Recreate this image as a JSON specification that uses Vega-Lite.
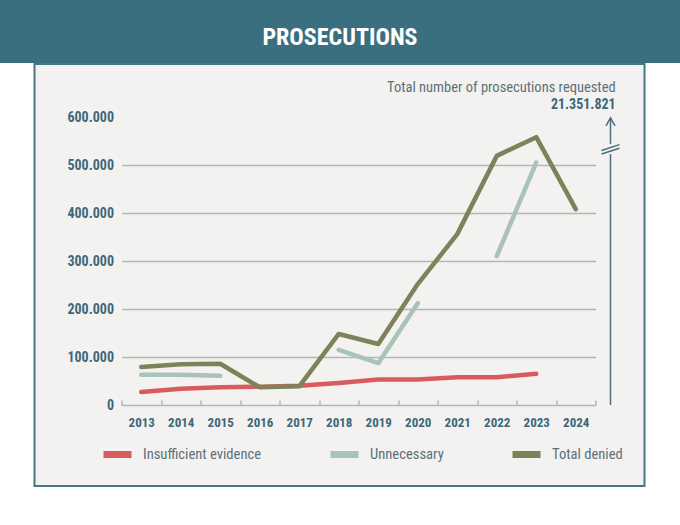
{
  "$schema": "https://vega.github.io/schema/vega-lite/v6.json",
  "background": "white",
  "padding": 0,
  "spacing": 0,
  "center": true,
  "config": {"font": "Roboto Condensed, Liberation Sans Narrow, Roboto, sans-serif", "view": {"stroke": null}},
  "datasets": {
    "header": [{"title": "PROSECUTIONS"}],
    "annotation": [{"label": "Total number of prosecutions requested", "total": "21.351.821"}],
    "prosecutions": [
      {"year": 2013, "series": "Insufficient evidence", "value": 27000},
      {"year": 2014, "series": "Insufficient evidence", "value": 34000},
      {"year": 2015, "series": "Insufficient evidence", "value": 37000},
      {"year": 2016, "series": "Insufficient evidence", "value": 38000},
      {"year": 2017, "series": "Insufficient evidence", "value": 40000},
      {"year": 2018, "series": "Insufficient evidence", "value": 46000},
      {"year": 2019, "series": "Insufficient evidence", "value": 53000},
      {"year": 2020, "series": "Insufficient evidence", "value": 53000},
      {"year": 2021, "series": "Insufficient evidence", "value": 58000},
      {"year": 2022, "series": "Insufficient evidence", "value": 58000},
      {"year": 2023, "series": "Insufficient evidence", "value": 65000},
      {"year": 2013, "series": "Unnecessary", "value": 63000},
      {"year": 2014, "series": "Unnecessary", "value": 63000},
      {"year": 2015, "series": "Unnecessary", "value": 61000},
      {"year": 2016, "series": "Unnecessary", "value": null},
      {"year": 2017, "series": "Unnecessary", "value": null},
      {"year": 2018, "series": "Unnecessary", "value": 115000},
      {"year": 2019, "series": "Unnecessary", "value": 87000},
      {"year": 2020, "series": "Unnecessary", "value": 212000},
      {"year": 2021, "series": "Unnecessary", "value": null},
      {"year": 2022, "series": "Unnecessary", "value": 310000},
      {"year": 2023, "series": "Unnecessary", "value": 505000},
      {"year": 2013, "series": "Total denied", "value": 79000},
      {"year": 2014, "series": "Total denied", "value": 85000},
      {"year": 2015, "series": "Total denied", "value": 86000},
      {"year": 2016, "series": "Total denied", "value": 37000},
      {"year": 2017, "series": "Total denied", "value": 39000},
      {"year": 2018, "series": "Total denied", "value": 148000},
      {"year": 2019, "series": "Total denied", "value": 127000},
      {"year": 2020, "series": "Total denied", "value": 252000},
      {"year": 2021, "series": "Total denied", "value": 356000},
      {"year": 2022, "series": "Total denied", "value": 519000},
      {"year": 2023, "series": "Total denied", "value": 558000},
      {"year": 2024, "series": "Total denied", "value": 408000}
    ]
  },
  "vconcat": [
    {
      "width": 680,
      "height": 63,
      "view": {"fill": "#3a6f80", "stroke": null},
      "data": {"name": "header"},
      "mark": {"type": "text", "color": "white", "fontSize": 24, "fontWeight": "bold", "baseline": "middle", "dy": 6},
      "encoding": {"text": {"field": "title"}}
    },
    {
      "width": 610,
      "height": 422,
      "view": {"fill": "#f3f2f0", "stroke": "#457886", "strokeWidth": 2},
      "layer": [
        {
          "data": {"name": "prosecutions"},
          "mark": {"type": "line", "strokeWidth": 4.5, "strokeCap": "round", "strokeJoin": "round", "invalid": "break-paths-show-domains"},
          "encoding": {
            "x": {
              "field": "year", "type": "quantitative",
              "scale": {"domain": [2012.5, 2024.5], "range": [87, 561], "nice": false, "zero": false},
              "axis": {
                "title": null,
                "values": [2012.5, 2013.5, 2014.5, 2015.5, 2016.5, 2017.5, 2018.5, 2019.5, 2020.5, 2021.5, 2022.5, 2023.5, 2024.5],
                "labelExpr": "datum.value < 2024 ? format(datum.value + 0.5, 'd') : ''",
                "labelOffset": 19.75,
                "labelFlush": false,
                "labelOverlap": false,
                "labelBound": false,
                "grid": false,
                "offset": -81,
                "domainColor": "#b3b6b9",
                "domainWidth": 1.5,
                "tickColor": "#b3b6b9",
                "tickWidth": 1.5,
                "tickSize": -5,
                "labelPadding": 16,
                "labelFontSize": 13,
                "labelFontWeight": "bold",
                "labelColor": "#3c6879"
              }
            },
            "y": {
              "field": "value", "type": "quantitative",
              "scale": {"domain": [0, 600000], "range": [341, 53], "nice": false},
              "axis": {
                "title": null,
                "values": [0, 100000, 200000, 300000, 400000, 500000, 600000],
                "labelExpr": "replace(format(datum.value, ','), regexp(',', 'g'), '.')",
                "domain": false,
                "ticks": false,
                "grid": true,
                "gridColor": "#b3b6b9",
                "gridWidth": 1.5,
                "gridOpacity": {"condition": {"test": "datum.value === 600000 || datum.value === 0", "value": 0}, "value": 1},
                "offset": -87,
                "labelPadding": 8,
                "labelFontSize": 14,
                "labelFontWeight": "bold",
                "labelColor": "#3c6879"
              }
            },
            "color": {
              "field": "series", "type": "nominal",
              "scale": {"domain": ["Insufficient evidence", "Unnecessary", "Total denied"], "range": ["#d95b5e", "#a9c3b8", "#7b8358"]},
              "legend": {
                "orient": "none", "legendX": 100, "legendY": 437,
                "direction": "horizontal", "columns": 3, "gridAlign": "none",
                "title": null,
                "symbolType": "stroke", "symbolSize": 784, "symbolStrokeWidth": 7,
                "labelFontSize": 14.6, "labelColor": "#5d7079", "labelOffset": 8,
                "columnPadding": 54
              }
            }
          }
        },
        {
          "data": {"name": "annotation"},
          "mark": {"type": "rule", "color": "#4b6f7d", "strokeWidth": 1.5},
          "encoding": {"x": {"datum": 2024.88}, "y": {"datum": 0}, "y2": {"datum": 523000}}
        },
        {
          "data": {"name": "annotation"},
          "mark": {"type": "rule", "color": "#4b6f7d", "strokeWidth": 1.5},
          "encoding": {"x": {"datum": 2024.88}, "y": {"datum": 544000}, "y2": {"datum": 596000}}
        },
        {
          "data": {"name": "annotation"},
          "mark": {"type": "point", "shape": "M -1 0.8 L 0 -1 L 1 0.8", "filled": false, "size": 81, "strokeWidth": 1.5, "color": "#4b6f7d", "opacity": 1},
          "encoding": {"x": {"datum": 2024.88}, "y": {"datum": 589000}}
        },
        {
          "data": {"name": "annotation"},
          "mark": {"type": "point", "shape": "M -1 0.2 L 1 -0.45 M -1 0.6 L 1 -0.05", "filled": false, "size": 324, "strokeWidth": 1.5, "color": "#4b6f7d", "opacity": 1},
          "encoding": {"x": {"datum": 2024.88}, "y": {"datum": 534000}}
        },
        {
          "data": {"name": "annotation"},
          "mark": {"type": "text", "align": "right", "baseline": "middle", "fontSize": 14.5, "color": "#5d7079"},
          "encoding": {"x": {"datum": 2025.01}, "y": {"datum": 660000}, "text": {"field": "label"}}
        },
        {
          "data": {"name": "annotation"},
          "mark": {"type": "text", "align": "right", "baseline": "middle", "fontSize": 14, "fontWeight": "bold", "color": "#3c6879"},
          "encoding": {"x": {"datum": 2025.01}, "y": {"datum": 625000}, "text": {"field": "total"}}
        }
      ]
    }
  ]
}
